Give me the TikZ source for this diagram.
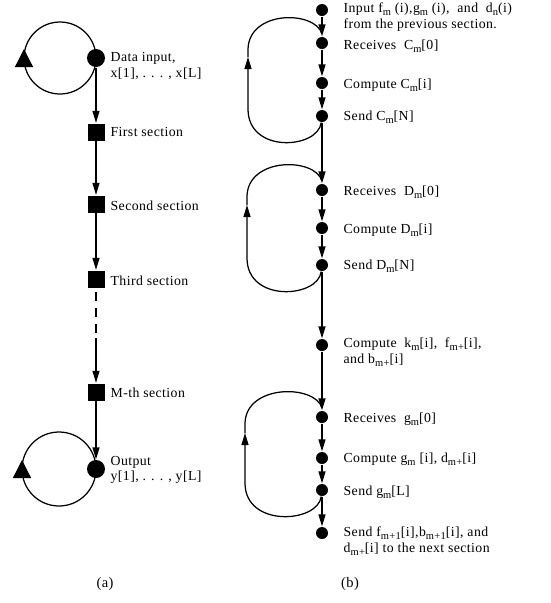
\documentclass[tikz,border=0pt]{standalone}
\usepackage{fontspec}
\setmainfont{Liberation Serif}[LetterSpace=3]
\usetikzlibrary{arrows.meta,decorations.markings}
% lowered small text for indices
\newcommand\subtx[1]{\raisebox{-0.5ex}{\fontsize{10.5}{10}\selectfont #1}}

\begin{document}
\begin{tikzpicture}[x=1pt,y=-1pt,
  line width=1.25pt,
  every node/.style={inner sep=0pt},
  dot/.style={circle,fill,draw=none,minimum size=12pt},
  bigdot/.style={circle,fill,draw=none,minimum size=18pt},
  sq/.style={rectangle,fill,draw=none,minimum size=17pt},
  lbl/.style={anchor=west,align=left,font=\fontsize{13.8}{15.5}\selectfont},
  partlabel/.style={font=\fontsize{14.5}{16}\selectfont},
  flow/.style={-{Triangle[length=12pt,width=7pt]}},
  looptip/.style={-{Triangle[length=12pt,width=7pt]}},
  selfloop/.style={postaction={decorate},
    decoration={markings,
      mark=at position 0.5 with {\arrow[xshift=9pt]{Triangle[length=18pt,width=18pt]}}}},
]
\useasboundingbox (0,0) rectangle (550,603);

% ---------- (a) sections in series ----------
\node[bigdot] (din) at (96,58) {};
\node[sq] (s1) at (96,132) {};
\node[sq] (s2) at (96,204) {};
\node[sq] (s3) at (96,279) {};
\node[sq] (sM) at (96,392) {};
\node[bigdot] (out) at (96,469) {};
\coordinate (gap) at (96,338);

\draw[selfloop] (din.center) arc[start angle=0, end angle=360, radius=36];
\draw[selfloop] (out.center) arc[start angle=0, end angle=360, radius=37];

\draw[flow] (din) -- (s1);
\draw[flow] (s1) -- (s2);
\draw[flow] (s2) -- (s3);
\draw[dash pattern=on 9pt off 7pt, dash phase=-4pt] (s3) -- (gap);
\draw[flow] (gap) -- (sM);
\draw[flow] (sM) -- (out);

\node[lbl] (tdin) at (110,66) {Data input,\\x[1], . . . , x[L]};
\node[lbl] (ts1) at (110,132) {First section};
\node[lbl] (ts2) at (110,206) {Second section};
\node[lbl] (ts3) at (110,281) {Third section};
\node[lbl] (tsM) at (110,393) {M-th section};
\node[lbl] (tout) at (110,470) {Output\\y[1], . . . , y[L]};

\node[partlabel] (capa) at (105,584) {(a)};

% ---------- (b) steps inside one section ----------
\node[dot] (inp)  at (322,10)  {};
\node[dot] (recC) at (322,43)  {};
\node[dot] (cmpC) at (322,83)  {};
\node[dot] (sndC) at (322,116) {};
\node[dot] (recD) at (322,190) {};
\node[dot] (cmpD) at (322,228) {};
\node[dot] (sndD) at (322,265) {};
\node[dot] (cmpK) at (322,345) {};
\node[dot] (recG) at (322,417) {};
\node[dot] (cmpG) at (322,458) {};
\node[dot] (sndG) at (322,490) {};
\node[dot] (sndF) at (322,533) {};

% loop-back paths
\coordinate (l1tip) at (248,57);  \coordinate (j1) at (322,34);
\coordinate (l2tip) at (247,205); \coordinate (j2) at (322,181);
\coordinate (l3tip) at (245,433); \coordinate (j3) at (322,408);

\draw[looptip] (sndC) .. controls (318,149) and (248,154) .. (248,109) -- (l1tip);
\draw (l1tip) -- (248,50) .. controls (248,10) and (315,10) .. (j1);
\draw[looptip] (sndD) .. controls (318,298) and (247,303) .. (247,258) -- (l2tip);
\draw (l2tip) -- (247,197) .. controls (247,157) and (315,157) .. (j2);
\draw[looptip] (sndG) .. controls (318,523) and (245,528) .. (245,483) -- (l3tip);
\draw (l3tip) -- (245,424) .. controls (245,384) and (315,384) .. (j3);

% main flow
\draw[flow] (inp) -- (recC);
\draw[flow] (recC) -- (cmpC);
\draw[flow] (cmpC) -- (sndC);
\draw[flow] (sndC) -- (recD);
\draw[flow] (recD) -- (cmpD);
\draw[flow] (cmpD) -- (sndD);
\draw[flow] (sndD) -- (cmpK);
\draw[flow] (cmpK) -- (recG);
\draw[flow] (recG) -- (cmpG);
\draw[flow] (cmpG) -- (sndG);
\draw[flow] (sndG) -- (sndF);

\node[lbl] (tinp) at (343,17) {Input f\subtx{m} (i),g\subtx{m} (i), \ and \ d\subtx{n}(i)\\from the previous section.};
\node[lbl] (trecC) at (343,46) {Receives \ C\subtx{m}[0]};
\node[lbl] (tcmpC) at (343,85) {Compute C\subtx{m}[i]};
\node[lbl] (tsndC) at (343,117) {Send C\subtx{m}[N]};
\node[lbl] (trecD) at (343,192) {Receives \ D\subtx{m}[0]};
\node[lbl] (tcmpD) at (343,230) {Compute D\subtx{m}[i]};
\node[lbl] (tsndD) at (343,266) {Send D\subtx{m}[N]};
\node[lbl] (tcmpK) at (343,352) {Compute \ k\subtx{m}[i], \ f\subtx{m+}[i],\\and b\subtx{m+}[i]};
\node[lbl] (trecG) at (343,419) {Receives \ g\subtx{m}[0]};
\node[lbl] (tcmpG) at (343,459) {Compute g\subtx{m} [i], d\subtx{m+}[i]};
\node[lbl] (tsndG) at (343,492) {Send g\subtx{m}[L]};
\node[lbl] (tsndF) at (343,541) {Send f\subtx{m+1}[i],b\subtx{m+1}[i], and\\d\subtx{m+}[i] to the next section};

\node[partlabel] (capb) at (350,584) {(b)};
\end{tikzpicture}
\end{document}
